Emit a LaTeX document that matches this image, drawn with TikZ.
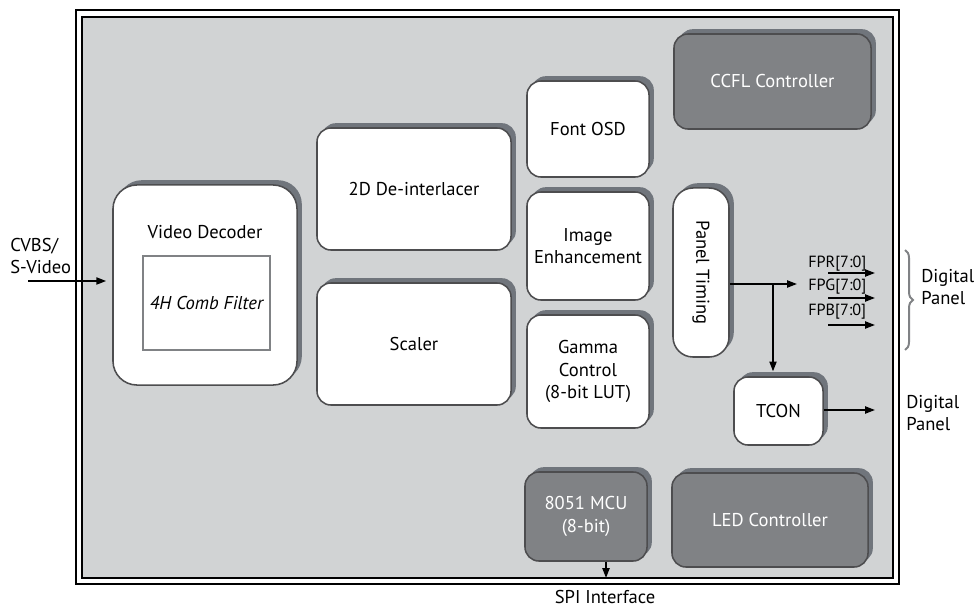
\documentclass[tikz,border=0pt]{standalone}
\usepackage{fontspec}
\setmainfont{PT Sans}
\usetikzlibrary{arrows.meta,shadows,decorations.pathreplacing}

\begin{document}
\begin{tikzpicture}[x=0.025cm, y=-0.025cm,
	blk/.style={draw=edgegray, line width=1.1pt, fill=white, rounded corners=0.35cm,
		drop shadow={shadow xshift=0.12cm, shadow yshift=0.12cm, fill=shadegray, opacity=1},
		align=center, inner sep=2pt, font=\fontsize{13.2}{16}\selectfont},
	darkblk/.style={blk, fill=boxgray, text=white},
	link/.style={line width=1.3pt, -{Triangle[length=7pt, width=5pt]}},
	lbl/.style={font=\fontsize{13.2}{16}\selectfont, align=left, inner sep=0pt}]
	\definecolor{bggray}{RGB}{209, 211, 212}
	\definecolor{edgegray}{RGB}{77, 77, 79}
	\definecolor{shadegray}{RGB}{112, 117, 124}
	\definecolor{boxgray}{RGB}{128, 130, 133}
	\definecolor{bracegray}{RGB}{128, 130, 133}

	\useasboundingbox (0, 0) rectangle (977, 609);

	% frame
	\draw[line width=1.2pt] (76, 10) rectangle (899, 584);
	\filldraw[line width=1.2pt, fill=bggray] (82, 17) rectangle (893, 578);

	% video path
	\node[blk, rounded corners=0.6cm, minimum width=4.6cm, minimum height=5cm] (dec) at (205, 285) {};
	\node[lbl] (dectxt) at (205, 232) {Video Decoder};
	\node[draw=boxgray, line width=1.2pt, fill=white, minimum width=3.175cm, minimum height=2.35cm,
		font=\fontsize{13.2}{16}\selectfont\itshape] (comb) at (206.5, 303) {4H Comb Filter};
	\node[blk, minimum width=4.85cm, minimum height=3.05cm] (deint) at (414, 189) {2D De-interlacer};
	\node[blk, minimum width=4.85cm, minimum height=3.05cm] (scaler) at (414, 344) {Scaler};

	% middle column
	\node[blk, minimum width=3.05cm, minimum height=2.4cm] (osd) at (588, 129) {Font OSD};
	\node[blk, minimum width=3.05cm, minimum height=2.7cm] (enh) at (588, 246) {Image\\Enhancement};
	\node[blk, minimum width=3.05cm, minimum height=2.825cm] (gamma) at (588, 371.5) {Gamma\\Control\\(8-bit LUT)};
	\node[darkblk, minimum width=3.05cm, minimum height=2.225cm] (mcu) at (586, 516.5) {8051 MCU\\(8-bit)};

	% right column
	\node[darkblk, minimum width=4.925cm, minimum height=2.375cm] (ccfl) at (772.5, 81.5) {CCFL Controller};
	\node[darkblk, minimum width=4.9cm, minimum height=2.35cm] (led) at (770, 520) {LED Controller};
	\node[blk, rounded corners=0.5cm, minimum width=1.4cm, minimum height=4.225cm] (timing) at (701, 272.5) {};
	\node[lbl, rotate=-90] (timingtxt) at (701, 272.5) {Panel Timing};
	\node[blk, minimum width=2.225cm, minimum height=1.7cm] (tcon) at (778.5, 411) {TCON};

	% input
	\node[lbl] (cvbs) at (10, 256) [anchor=west] {CVBS/\\S-Video};
	\coordinate (cvbsin) at (28, 281);
	\draw[link, shorten >=0.15cm] (cvbsin) -- (dec.west |- cvbsin);

	% panel outputs
	\coordinate (fpout) at (797, 284);
	\coordinate (split) at (773, 284);
	\draw[link] (timing.east |- fpout) -- (fpout);
	\draw[link, shorten >=0.12cm] (split) -- (tcon.north -| split);
	\foreach \c/\ly/\ay in {R/268/273, G/291/298, B/315/325}{
		\node[lbl, font=\fontsize{11.5}{13}\selectfont, anchor=base west] (fp\c) at (808, \ly) {FP\c[7:0]};
		\coordinate (fp\c a) at (828, \ay);
		\coordinate (fp\c b) at (875, \ay);
		\draw[link] (fp\c a) -- (fp\c b);
	}
	\draw[bracegray, line width=1.4pt, decorate, decoration={brace, amplitude=0.2cm}] (905, 250) -- (905, 350);
	\node[lbl, anchor=west] (panelA) at (921, 287) {Digital\\Panel};

	\coordinate (tconout) at (875, 410);
	\draw[link] (tcon.east |- tconout) -- (tconout);
	\node[lbl, anchor=west] (panelB) at (906, 413) {Digital\\Panel};

	% spi
	\coordinate (spiend) at (606, 578);
	\draw[link] (mcu.south -| spiend) -- (spiend);
	\node[lbl, anchor=base] (spi) at (605, 603) {SPI Interface};
\end{tikzpicture}
\end{document}
